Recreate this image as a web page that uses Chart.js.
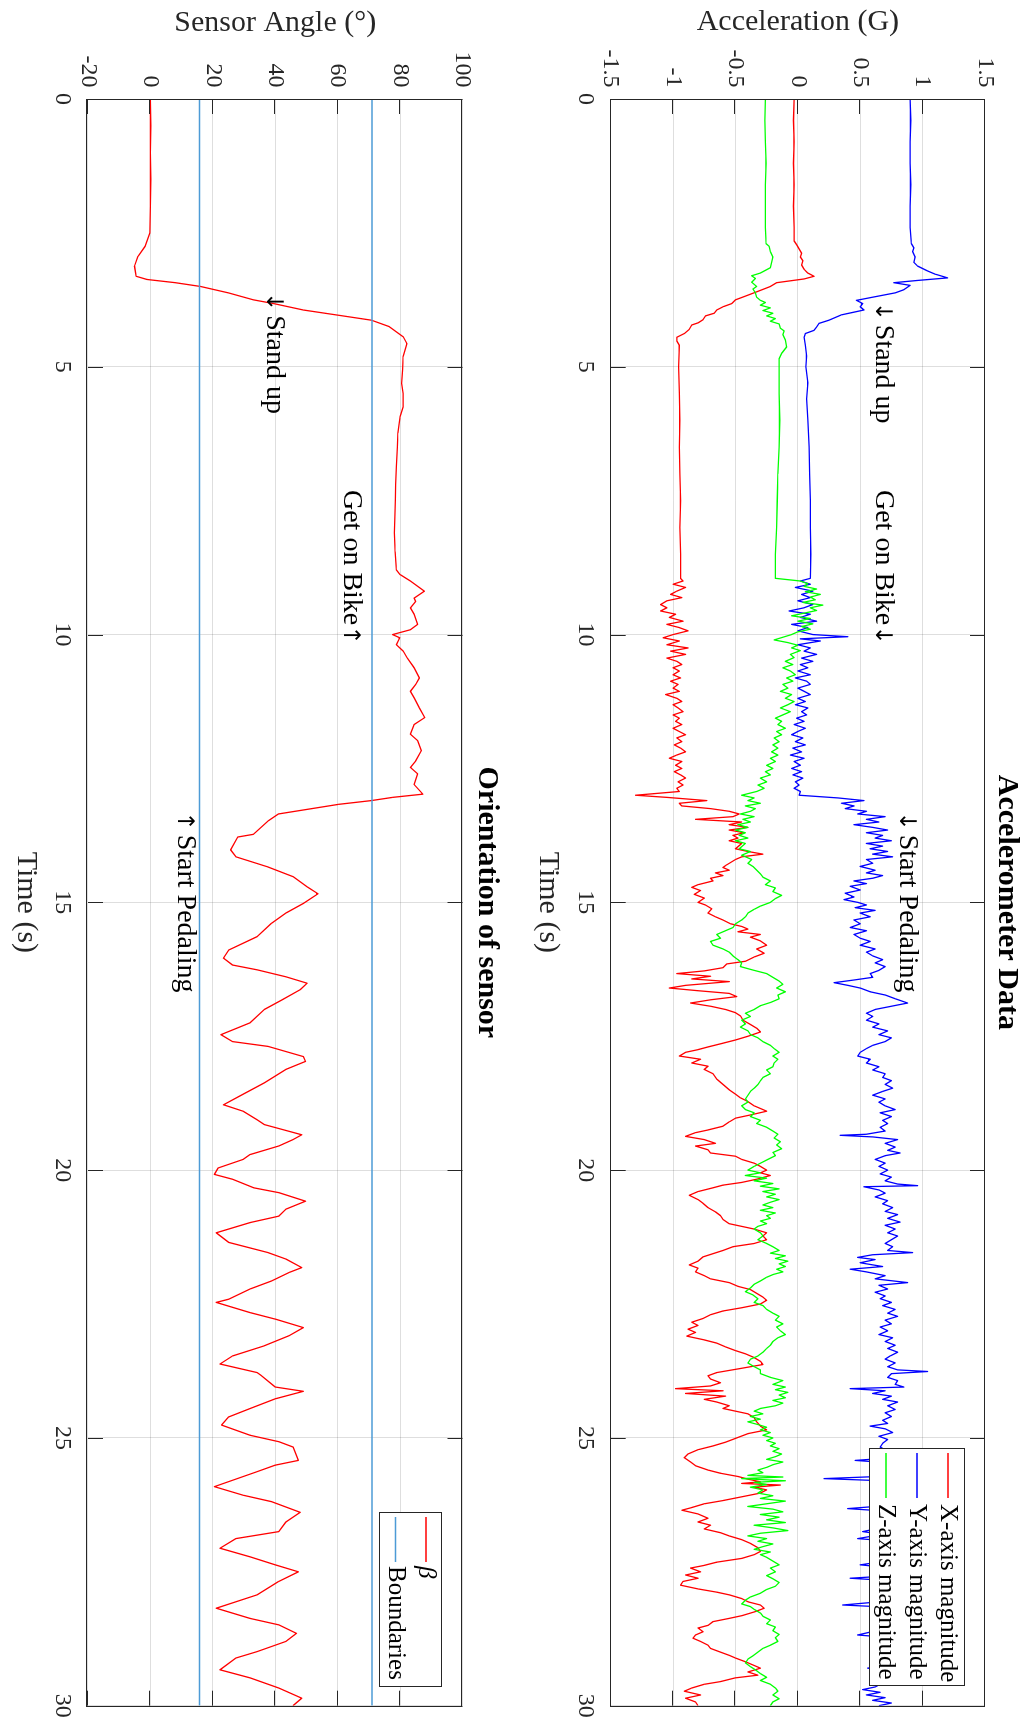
<!DOCTYPE html>
<html>
<head>
<meta charset="utf-8">
<script src="https://cdn.jsdelivr.net/npm/chart.js@4.4.1/dist/chart.umd.min.js"></script>
<style>
html,body{margin:0;padding:0;background:#fff;width:1028px;height:1729px;overflow:hidden;}
#fig{position:absolute;left:0;top:0;width:1729px;height:1028px;transform-origin:0 0;transform:translate(1028px,0) rotate(90deg);background:#fff;}
#topBox{position:absolute;left:0;top:0;width:1729px;height:500px;}
#botBox{position:absolute;left:0;top:500px;width:1729px;height:528px;}
canvas{display:block;}
</style>
</head>
<body>
<div id="fig">
  <div id="topBox"><canvas id="accelChart" width="1729" height="500"></canvas></div>
  <div id="botBox"><canvas id="angleChart" width="1729" height="528"></canvas></div>
</div>
<script>
// ---------------- DATA (time in s, value) ----------------
const timeRange = [0, 30];
const timeTicks = [0, 5, 10, 15, 20, 25, 30];
const timeTickLabels = ['0', '5', '10', '15', '20', '25', '30'];
const accelTicks = [-1.5, -1, -0.5, 0, 0.5, 1, 1.5];
const accelTickLabels = ['-1.5', '-1', '-0.5', '0', '0.5', '1', '1.5'];
const angleTicks = [-20, 0, 20, 40, 60, 80, 100];
const angleTickLabels = ['-20', '0', '20', '40', '60', '80', '100'];
const boundaryLevels = [15.7, 71];

const accelX = [
[0,-0.03],[0.4,-0.035],[0.8,-0.03],[1.2,-0.035],[1.6,-0.03],[2.0,-0.035],[2.4,-0.03],[2.65,-0.03],[2.72,-0.01],[2.8,0.01],[2.88,0.03],[2.95,0.02],[3.02,0.04],[3.1,0.03],[3.18,0.05],[3.25,0.08],[3.31,0.13],[3.36,0.05],[3.43,-0.17],[3.5,-0.22],[3.6,-0.33],[3.68,-0.42],[3.75,-0.5],[3.82,-0.53],[3.88,-0.6],[3.94,-0.65],[4.0,-0.67],[4.05,-0.74],[4.12,-0.76],[4.18,-0.8],[4.22,-0.85],[4.3,-0.87],[4.38,-0.91],[4.45,-0.97],[4.52,-0.97],[4.6,-0.95],[5.0,-0.955],[5.5,-0.95],[6.0,-0.945],[6.5,-0.95],[7.0,-0.945],[7.5,-0.94],[8.0,-0.945],[8.5,-0.94],[8.95,-0.94],
[9.0,-0.92],[9.06,-1.0],[9.12,-0.9],[9.19,-0.97],[9.25,-1.02],[9.31,-0.93],[9.37,-1.05],[9.44,-1.1],[9.5,-1.05],[9.56,-1.1],[9.62,-0.98],[9.68,-1.03],[9.75,-0.92],[9.81,-1.05],[9.87,-0.95],[9.93,-0.88],[10.0,-1.0],[10.06,-1.08],[10.12,-0.95],[10.19,-1.05],[10.25,-0.88],[10.31,-1.02],[10.37,-0.9],[10.44,-1.05],[10.5,-0.97],[10.56,-0.93],[10.62,-1.0],[10.68,-0.95],[10.75,-1.0],[10.81,-0.94],[10.87,-1.02],[10.93,-0.96],[11.0,-1.0],[11.06,-0.95],[11.12,-1.06],[11.19,-0.97],[11.25,-0.93],[11.31,-1.0],[11.37,-0.96],[11.44,-0.92],[11.5,-1.0],[11.56,-0.95],[11.62,-0.98],[11.68,-0.93],[11.75,-1.0],[11.81,-0.95],[11.87,-0.9],[11.93,-0.97],[12.0,-0.93],[12.06,-0.99],[12.12,-0.94],[12.19,-0.9],[12.25,-0.97],[12.31,-1.03],[12.37,-0.93],[12.44,-0.98],[12.5,-0.93],[12.56,-0.99],[12.62,-0.94],[12.68,-0.9],[12.75,-0.96],[12.81,-0.92],[12.87,-0.97],[12.93,-0.95],[13.0,-1.3],[13.04,-1.05],[13.1,-0.73],[13.15,-0.95],[13.2,-0.93],[13.25,-0.7],[13.3,-0.55],[13.35,-0.47],[13.4,-0.52],[13.45,-0.82],[13.5,-0.45],[13.55,-0.55],[13.6,-0.4],[13.65,-0.55],[13.7,-0.43],[13.75,-0.52],
[13.8,-0.48],[13.85,-0.55],[13.9,-0.45],[14.0,-0.5],[14.05,-0.4],[14.1,-0.28],[14.15,-0.45],[14.2,-0.5],[14.3,-0.57],[14.35,-0.6],[14.4,-0.55],[14.45,-0.66],[14.5,-0.6],[14.55,-0.7],[14.6,-0.68],[14.67,-0.8],[14.72,-0.85],[14.78,-0.78],[14.85,-0.83],[14.92,-0.75],[15.0,-0.8],[15.05,-0.74],[15.12,-0.69],[15.2,-0.72],[15.27,-0.66],[15.33,-0.6],[15.4,-0.54],[15.45,-0.45],[15.5,-0.4],[15.55,-0.48],[15.6,-0.3],[15.65,-0.38],[15.72,-0.3],[15.8,-0.25],[15.87,-0.33],[15.95,-0.27],[16.02,-0.35],[16.1,-0.42],[16.15,-0.57],[16.22,-0.6],[16.28,-0.75],[16.33,-0.97],[16.38,-0.7],[16.43,-0.85],[16.48,-0.55],[16.55,-0.9],[16.6,-1.03],[16.65,-0.8],[16.7,-0.55],[16.76,-0.49],[16.82,-0.7],[16.88,-0.86],[16.94,-0.7],[17.0,-0.58],[17.06,-0.5],[17.12,-0.46],[17.2,-0.44],[17.28,-0.38],[17.35,-0.33],[17.42,-0.3],[17.5,-0.4],[17.57,-0.5],[17.63,-0.6],[17.7,-0.72],[17.75,-0.8],[17.8,-0.9],[17.87,-0.95],[17.93,-0.78],[18.0,-0.85],[18.06,-0.72],[18.12,-0.75],[18.2,-0.68],[18.3,-0.65],[18.4,-0.6],[18.5,-0.55],[18.58,-0.5],[18.65,-0.46],[18.72,-0.4],[18.8,-0.35],
[18.85,-0.3],[18.9,-0.25],[18.97,-0.38],[19.03,-0.5],[19.1,-0.55],[19.18,-0.6],[19.25,-0.72],[19.3,-0.82],[19.37,-0.9],[19.43,-0.75],[19.5,-0.66],[19.55,-0.82],[19.62,-0.72],[19.68,-0.7],[19.74,-0.5],[19.8,-0.45],[19.87,-0.35],[19.93,-0.3],[20.0,-0.25],[20.05,-0.3],[20.1,-0.22],[20.17,-0.33],[20.23,-0.45],[20.28,-0.6],[20.33,-0.68],[20.4,-0.8],[20.47,-0.87],[20.55,-0.8],[20.62,-0.76],[20.7,-0.72],[20.78,-0.66],[20.85,-0.62],[20.92,-0.6],[21.0,-0.55],[21.05,-0.45],[21.1,-0.35],[21.17,-0.25],[21.23,-0.28],[21.3,-0.25],[21.37,-0.35],[21.43,-0.52],[21.5,-0.6],[21.56,-0.68],[21.62,-0.76],[21.7,-0.8],[21.77,-0.87],[21.83,-0.8],[21.9,-0.82],[21.97,-0.75],[22.03,-0.7],[22.1,-0.55],[22.17,-0.48],[22.23,-0.38],[22.3,-0.33],[22.37,-0.28],[22.43,-0.25],[22.5,-0.3],[22.57,-0.45],[22.63,-0.6],[22.7,-0.7],[22.77,-0.76],[22.84,-0.85],[22.9,-0.8],[22.97,-0.88],[23.03,-0.82],[23.1,-0.89],[23.17,-0.75],[23.23,-0.65],[23.3,-0.58],[23.37,-0.5],[23.43,-0.42],[23.5,-0.35],[23.57,-0.3],[23.63,-0.28],[23.7,-0.45],[23.78,-0.65],[23.84,-0.72],
[23.9,-0.7],[23.97,-0.62],[24.03,-0.7],[24.08,-0.98],[24.12,-0.6],[24.17,-0.9],[24.22,-0.58],[24.28,-0.75],[24.33,-0.65],[24.4,-0.55],[24.45,-0.6],[24.5,-0.5],[24.55,-0.4],[24.62,-0.35],[24.7,-0.33],[24.78,-0.3],[24.85,-0.25],[24.92,-0.4],[25.0,-0.49],[25.08,-0.58],[25.15,-0.68],[25.22,-0.8],[25.3,-0.88],[25.37,-0.91],[25.45,-0.86],[25.52,-0.82],[25.6,-0.72],[25.66,-0.62],[25.72,-0.48],[25.77,-0.4],[25.82,-0.3],[25.85,-0.45],[25.88,-0.14],[25.92,-0.35],[25.97,-0.25],[26.03,-0.3],[26.1,-0.45],[26.17,-0.6],[26.23,-0.75],[26.3,-0.85],[26.35,-0.93],[26.42,-0.8],[26.5,-0.72],[26.57,-0.8],[26.63,-0.7],[26.7,-0.75],[26.77,-0.62],[26.83,-0.55],[26.9,-0.45],[26.97,-0.38],[27.05,-0.32],[27.12,-0.3],[27.18,-0.35],[27.25,-0.45],[27.32,-0.65],[27.38,-0.75],[27.43,-0.86],[27.5,-0.78],[27.56,-0.9],[27.62,-0.8],[27.68,-0.92],[27.75,-0.94],[27.82,-0.8],[27.88,-0.65],[27.93,-0.55],[28.0,-0.45],[28.06,-0.4],[28.12,-0.3],[28.18,-0.27],[28.25,-0.35],[28.32,-0.45],[28.37,-0.55],[28.43,-0.68],[28.5,-0.72],[28.55,-0.8],[28.62,-0.76],[28.68,-0.82],[28.74,-0.84],[28.8,-0.78],[28.87,-0.72],[28.93,-0.7],[29.0,-0.62],[29.06,-0.55],[29.11,-0.5],[29.18,-0.42],[29.25,-0.35],[29.3,-0.3],[29.37,-0.4],[29.43,-0.32],[29.48,-0.5],[29.55,-0.62],[29.6,-0.75],[29.67,-0.85],[29.73,-0.91],[29.8,-0.78],[29.86,-0.9],[29.93,-0.82],[30.0,-0.8]
];

const accelY = [
[0,0.9],[0.4,0.905],[0.8,0.9],[1.2,0.9],[1.6,0.905],[2.0,0.9],[2.4,0.9],[2.7,0.91],[2.78,0.93],[2.85,0.92],[2.95,0.94],[3.05,0.93],[3.12,0.96],[3.2,1.03],[3.27,1.1],[3.34,1.2],[3.39,0.95],[3.43,0.77],[3.48,0.9],[3.56,0.85],[3.62,0.78],[3.71,0.58],[3.76,0.47],[3.82,0.52],[3.88,0.5],[3.94,0.53],[3.98,0.45],[4.03,0.35],[4.08,0.3],[4.13,0.25],[4.19,0.17],[4.26,0.15],[4.32,0.13],[4.38,0.06],[4.45,0.05],[4.6,0.06],[4.8,0.07],[5.0,0.065],[5.3,0.08],[5.6,0.07],[6.0,0.08],[6.5,0.09],[7.0,0.095],[7.5,0.1],[8.0,0.1],[8.5,0.105],[8.95,0.1],
[9.0,0.02],[9.06,0.1],[9.12,-0.02],[9.19,0.12],[9.25,0.03],[9.31,0.1],[9.37,0.0],[9.44,0.12],[9.5,0.05],[9.56,-0.07],[9.62,0.1],[9.68,0.02],[9.75,0.15],[9.81,-0.05],[9.87,0.08],[9.93,0.0],[10.0,0.12],[10.04,0.4],[10.08,0.02],[10.12,0.18],[10.19,0.0],[10.25,0.1],[10.31,0.05],[10.37,0.15],[10.44,0.03],[10.5,0.12],[10.56,0.02],[10.62,0.08],[10.68,0.0],[10.75,0.1],[10.81,-0.02],[10.87,0.07],[10.93,0.1],[11.0,0.0],[11.06,0.05],[11.12,0.1],[11.19,0.0],[11.25,0.06],[11.31,-0.02],[11.37,0.08],[11.44,0.03],[11.5,0.07],[11.56,-0.01],[11.62,0.05],[11.68,-0.03],[11.75,0.06],[11.81,0.0],[11.87,-0.05],[11.93,0.04],[12.0,-0.02],[12.06,0.06],[12.12,-0.04],[12.19,0.03],[12.25,-0.06],[12.31,0.05],[12.37,-0.03],[12.44,0.02],[12.5,-0.05],[12.56,0.03],[12.62,-0.04],[12.68,0.04],[12.75,-0.02],[12.81,0.01],[12.87,-0.03],[12.93,0.02],[13.0,0.01],[13.05,0.32],[13.1,0.53],[13.15,0.35],[13.2,0.45],[13.25,0.38],[13.3,0.55],[13.35,0.48],[13.4,0.7],[13.45,0.55],[13.5,0.65],[13.55,0.45],[13.6,0.6],[13.65,0.72],[13.7,0.55],[13.75,0.68],
[13.8,0.62],[13.85,0.75],[13.9,0.55],[13.95,0.68],[14.0,0.58],[14.05,0.72],[14.1,0.6],[14.15,0.76],[14.2,0.55],[14.27,0.6],[14.33,0.5],[14.4,0.62],[14.45,0.55],[14.5,0.68],[14.55,0.6],[14.6,0.45],[14.65,0.55],[14.7,0.42],[14.77,0.5],[14.83,0.38],[14.9,0.45],[14.95,0.37],[15.0,0.48],[15.05,0.55],[15.1,0.46],[15.15,0.62],[15.2,0.5],[15.27,0.58],[15.33,0.45],[15.4,0.5],[15.47,0.42],[15.53,0.55],[15.6,0.45],[15.67,0.5],[15.73,0.58],[15.8,0.5],[15.87,0.62],[15.93,0.55],[16.0,0.6],[16.07,0.68],[16.13,0.62],[16.2,0.7],[16.27,0.65],[16.33,0.58],[16.4,0.6],[16.45,0.45],[16.5,0.29],[16.55,0.4],[16.6,0.5],[16.67,0.58],[16.73,0.7],[16.8,0.78],[16.88,0.88],[16.94,0.75],[17.0,0.62],[17.07,0.55],[17.13,0.6],[17.2,0.55],[17.27,0.65],[17.33,0.6],[17.4,0.72],[17.47,0.65],[17.53,0.75],[17.6,0.7],[17.67,0.6],[17.73,0.55],[17.8,0.5],[17.87,0.48],[17.93,0.58],[18.0,0.55],[18.07,0.65],[18.13,0.6],[18.2,0.7],[18.27,0.68],[18.33,0.75],[18.4,0.7],[18.47,0.76],[18.53,0.68],[18.6,0.6],[18.67,0.7],[18.73,0.65],[18.8,0.7],
[18.87,0.78],[18.93,0.66],[19.0,0.75],[19.07,0.68],[19.13,0.72],[19.2,0.66],[19.27,0.7],[19.33,0.55],[19.35,0.34],[19.38,0.6],[19.43,0.8],[19.5,0.7],[19.57,0.78],[19.63,0.72],[19.68,0.82],[19.73,0.7],[19.8,0.62],[19.87,0.7],[19.93,0.65],[20.0,0.72],[20.07,0.66],[20.13,0.75],[20.2,0.7],[20.26,0.8],[20.29,0.96],[20.31,0.53],[20.37,0.65],[20.43,0.7],[20.5,0.62],[20.57,0.72],[20.63,0.68],[20.7,0.76],[20.77,0.7],[20.83,0.8],[20.9,0.72],[20.97,0.82],[21.03,0.7],[21.1,0.78],[21.17,0.72],[21.23,0.8],[21.3,0.75],[21.37,0.7],[21.43,0.76],[21.5,0.72],[21.54,0.92],[21.58,0.6],[21.63,0.48],[21.67,0.62],[21.73,0.5],[21.8,0.68],[21.85,0.42],[21.9,0.55],[21.97,0.7],[22.03,0.62],[22.1,0.88],[22.15,0.65],[22.22,0.72],[22.28,0.62],[22.35,0.7],[22.4,0.66],[22.47,0.75],[22.53,0.68],[22.6,0.78],[22.67,0.72],[22.73,0.8],[22.8,0.7],[22.87,0.75],[22.93,0.66],[23.0,0.72],[23.07,0.65],[23.13,0.76],[23.2,0.7],[23.27,0.78],[23.33,0.72],[23.4,0.8],[23.47,0.74],[23.53,0.7],[23.6,0.78],[23.67,0.72],[23.73,0.8],[23.76,1.04],[23.8,0.75],
[23.87,0.72],[23.93,0.8],[24.0,0.78],[24.05,0.85],[24.08,0.42],[24.12,0.7],[24.17,0.6],[24.22,0.75],[24.28,0.68],[24.33,0.8],[24.4,0.72],[24.47,0.78],[24.53,0.7],[24.6,0.75],[24.67,0.68],[24.73,0.72],[24.78,0.58],[24.83,0.7],[24.9,0.76],[24.97,0.65],[25.03,0.72],[25.1,0.68],[25.17,0.66],[25.25,0.72],[25.3,0.75],[25.38,0.7],[25.42,0.46],[25.46,0.7],[25.55,0.78],[25.65,0.72],[25.72,0.65],[25.76,0.21],[25.8,0.68],[25.9,0.75],[26.0,0.72],[26.1,0.78],[26.2,0.7],[26.28,0.62],[26.32,0.4],[26.36,0.66],[26.45,0.74],[26.55,0.7],[26.65,0.72],[26.75,0.52],[26.8,0.68],[26.88,0.48],[26.92,0.7],[27.0,0.75],[27.1,0.72],[27.2,0.78],[27.3,0.7],[27.37,0.5],[27.42,0.72],[27.5,0.76],[27.58,0.7],[27.62,0.42],[27.66,0.7],[27.75,0.76],[27.85,0.72],[27.95,0.78],[28.05,0.7],[28.12,0.36],[28.16,0.72],[28.25,0.76],[28.35,0.7],[28.45,0.78],[28.55,0.72],[28.68,0.48],[28.72,0.7],[28.8,0.76],[28.9,0.72],[29.0,0.78],[29.1,0.7],[29.2,0.75],[29.3,0.56],[29.34,0.72],[29.45,0.76],[29.55,0.7],[29.65,0.62],[29.7,0.52],[29.75,0.66],[29.8,0.55],[29.85,0.7],[29.9,0.6],[29.95,0.75],[30.0,0.65]
];

const accelZ = [
[0,-0.26],[0.4,-0.265],[0.8,-0.26],[1.2,-0.255],[1.6,-0.26],[2.0,-0.26],[2.4,-0.26],[2.7,-0.255],[2.75,-0.23],[2.85,-0.22],[2.95,-0.2],[3.05,-0.21],[3.15,-0.22],[3.25,-0.3],[3.3,-0.37],[3.35,-0.34],[3.42,-0.37],[3.5,-0.33],[3.55,-0.36],[3.62,-0.34],[3.7,-0.33],[3.76,-0.3],[3.8,-0.26],[3.85,-0.3],[3.9,-0.22],[3.95,-0.28],[4.0,-0.2],[4.05,-0.25],[4.1,-0.18],[4.15,-0.22],[4.2,-0.15],[4.28,-0.14],[4.33,-0.11],[4.4,-0.12],[4.5,-0.1],[4.63,-0.09],[4.75,-0.13],[4.85,-0.15],[5.0,-0.15],[5.5,-0.15],[6.0,-0.145],[6.5,-0.15],[7.0,-0.16],[7.5,-0.165],[8.0,-0.17],[8.5,-0.18],[8.95,-0.18],
[9.0,0.02],[9.05,0.08],[9.1,0.05],[9.15,0.15],[9.2,0.06],[9.25,0.18],[9.3,0.1],[9.35,0.14],[9.4,0.04],[9.45,0.2],[9.5,0.1],[9.55,0.15],[9.6,0.05],[9.65,-0.05],[9.7,0.1],[9.75,0.0],[9.8,0.12],[9.85,0.03],[9.9,0.1],[9.95,0.0],[10.0,-0.05],[10.05,-0.12],[10.1,-0.19],[10.15,-0.08],[10.2,0.0],[10.25,-0.05],[10.3,0.02],[10.37,-0.06],[10.43,-0.03],[10.5,-0.1],[10.56,-0.04],[10.62,-0.12],[10.68,-0.06],[10.75,-0.02],[10.81,-0.09],[10.87,-0.04],[10.93,-0.12],[11.0,-0.08],[11.06,-0.14],[11.12,-0.05],[11.19,-0.1],[11.25,-0.03],[11.31,-0.08],[11.37,-0.14],[11.44,-0.06],[11.5,-0.12],[11.56,-0.18],[11.62,-0.13],[11.68,-0.16],[11.75,-0.1],[11.81,-0.17],[11.87,-0.13],[11.93,-0.19],[12.0,-0.15],[12.06,-0.2],[12.12,-0.16],[12.19,-0.21],[12.25,-0.16],[12.31,-0.22],[12.37,-0.18],[12.44,-0.25],[12.5,-0.2],[12.56,-0.26],[12.62,-0.22],[12.68,-0.3],[12.75,-0.25],[12.81,-0.32],[12.87,-0.27],[12.93,-0.33],[13.0,-0.45],[13.05,-0.35],[13.1,-0.4],[13.15,-0.3],[13.2,-0.42],[13.25,-0.34],[13.3,-0.38],[13.35,-0.46],[13.4,-0.35],[13.45,-0.44],[13.5,-0.38],[13.55,-0.48],[13.6,-0.4],[13.65,-0.5],[13.7,-0.42],[13.75,-0.47],
[13.8,-0.4],[13.85,-0.5],[13.9,-0.42],[14.0,-0.47],[14.05,-0.38],[14.12,-0.45],[14.2,-0.37],[14.27,-0.4],[14.33,-0.36],[14.4,-0.33],[14.47,-0.3],[14.53,-0.28],[14.6,-0.22],[14.67,-0.26],[14.73,-0.18],[14.8,-0.2],[14.87,-0.13],[14.93,-0.18],[15.0,-0.22],[15.07,-0.3],[15.13,-0.35],[15.2,-0.4],[15.27,-0.42],[15.33,-0.45],[15.4,-0.5],[15.47,-0.52],[15.53,-0.58],[15.6,-0.65],[15.67,-0.62],[15.73,-0.7],[15.8,-0.68],[15.87,-0.6],[15.93,-0.55],[16.0,-0.52],[16.07,-0.48],[16.13,-0.45],[16.2,-0.46],[16.27,-0.35],[16.33,-0.25],[16.4,-0.2],[16.47,-0.15],[16.53,-0.12],[16.6,-0.17],[16.67,-0.1],[16.73,-0.16],[16.8,-0.15],[16.87,-0.22],[16.93,-0.3],[17.0,-0.35],[17.07,-0.42],[17.13,-0.38],[17.2,-0.45],[17.27,-0.42],[17.33,-0.46],[17.4,-0.4],[17.47,-0.38],[17.53,-0.32],[17.6,-0.28],[17.67,-0.22],[17.73,-0.19],[17.8,-0.15],[17.87,-0.2],[17.93,-0.16],[18.0,-0.19],[18.07,-0.2],[18.13,-0.25],[18.2,-0.22],[18.27,-0.28],[18.33,-0.3],[18.4,-0.32],[18.47,-0.35],[18.53,-0.38],[18.6,-0.4],[18.67,-0.42],[18.73,-0.4],[18.8,-0.45],
[18.87,-0.42],[18.93,-0.35],[19.0,-0.38],[19.07,-0.3],[19.13,-0.33],[19.2,-0.25],[19.27,-0.2],[19.33,-0.16],[19.4,-0.19],[19.47,-0.14],[19.53,-0.17],[19.6,-0.13],[19.67,-0.2],[19.73,-0.18],[19.8,-0.24],[19.87,-0.3],[19.93,-0.35],[20.0,-0.4],[20.05,-0.3],[20.1,-0.42],[20.15,-0.25],[20.2,-0.35],[20.25,-0.2],[20.3,-0.3],[20.35,-0.15],[20.4,-0.28],[20.45,-0.18],[20.5,-0.25],[20.55,-0.15],[20.6,-0.22],[20.65,-0.28],[20.7,-0.2],[20.75,-0.3],[20.8,-0.18],[20.85,-0.25],[20.9,-0.22],[20.95,-0.3],[21.0,-0.25],[21.05,-0.32],[21.1,-0.35],[21.17,-0.3],[21.23,-0.28],[21.3,-0.32],[21.37,-0.25],[21.43,-0.2],[21.5,-0.15],[21.55,-0.22],[21.6,-0.1],[21.65,-0.18],[21.7,-0.08],[21.75,-0.15],[21.8,-0.1],[21.85,-0.17],[21.9,-0.12],[21.95,-0.2],[22.0,-0.25],[22.07,-0.3],[22.13,-0.35],[22.2,-0.38],[22.27,-0.42],[22.33,-0.36],[22.4,-0.32],[22.47,-0.35],[22.53,-0.28],[22.6,-0.25],[22.67,-0.2],[22.73,-0.15],[22.8,-0.18],[22.87,-0.12],[22.93,-0.17],[23.0,-0.14],[23.07,-0.1],[23.13,-0.16],[23.2,-0.2],[23.27,-0.22],[23.33,-0.25],[23.4,-0.28],[23.47,-0.32],[23.53,-0.38],[23.6,-0.4],[23.67,-0.35],[23.73,-0.3],[23.8,-0.3],
[23.87,-0.22],[23.93,-0.12],[24.0,-0.2],[24.05,-0.1],[24.1,-0.18],[24.15,-0.08],[24.2,-0.15],[24.25,-0.1],[24.3,-0.2],[24.35,-0.12],[24.4,-0.18],[24.45,-0.3],[24.5,-0.35],[24.55,-0.28],[24.6,-0.38],[24.65,-0.3],[24.7,-0.4],[24.75,-0.32],[24.8,-0.25],[24.85,-0.3],[24.9,-0.22],[24.95,-0.28],[25.0,-0.2],[25.05,-0.25],[25.1,-0.18],[25.15,-0.22],[25.2,-0.15],[25.25,-0.2],[25.3,-0.13],[25.35,-0.18],[25.4,-0.25],[25.45,-0.12],[25.5,-0.2],[25.55,-0.25],[25.6,-0.32],[25.65,-0.28],[25.7,-0.4],[25.73,-0.12],[25.76,-0.45],[25.8,-0.1],[25.83,-0.35],[25.87,-0.25],[25.92,-0.38],[25.97,-0.28],[26.03,-0.32],[26.08,-0.2],[26.13,-0.3],[26.18,-0.1],[26.23,-0.25],[26.28,-0.4],[26.33,-0.2],[26.38,-0.12],[26.43,-0.3],[26.48,-0.15],[26.53,-0.25],[26.58,-0.1],[26.63,-0.35],[26.68,-0.2],[26.73,-0.08],[26.78,-0.3],[26.83,-0.4],[26.88,-0.25],[26.93,-0.32],[26.98,-0.2],[27.03,-0.28],[27.08,-0.35],[27.13,-0.22],[27.18,-0.3],[27.23,-0.25],[27.3,-0.2],[27.37,-0.15],[27.43,-0.22],[27.5,-0.18],[27.57,-0.25],[27.63,-0.2],[27.7,-0.15],[27.77,-0.18],[27.83,-0.25],[27.9,-0.3],[27.97,-0.38],[28.03,-0.42],[28.1,-0.45],[28.15,-0.38],[28.2,-0.35],[28.27,-0.3],[28.33,-0.28],[28.4,-0.22],[28.47,-0.25],[28.53,-0.18],[28.6,-0.2],[28.67,-0.15],[28.73,-0.18],[28.8,-0.16],[28.87,-0.22],[28.93,-0.28],[29.0,-0.32],[29.07,-0.36],[29.13,-0.4],[29.2,-0.42],[29.27,-0.38],[29.33,-0.34],[29.4,-0.3],[29.47,-0.25],[29.53,-0.3],[29.6,-0.22],[29.67,-0.18],[29.73,-0.16],[29.8,-0.2],[29.87,-0.15],[29.93,-0.2],[30.0,-0.22]
];

const betaAngle = [
[0,0],[0.5,0.1],[1,0],[1.5,0.1],[2,0],[2.5,-0.2],[2.75,-1.7],[2.94,-4],[3.12,-5.1],[3.31,-4.6],[3.37,-1.1],[3.43,8],[3.5,16],[3.62,25],[3.75,33],[3.82,39.5],[3.94,49],[4.04,60.5],[4.13,70.8],[4.25,76.5],[4.44,81],[4.57,82.2],[4.81,81],[5.05,80.8],[5.31,80.5],[5.5,81],[5.75,81],[5.93,80],[6.1,79.6],[6.24,79.3],[6.5,79.1],[6.86,78.8],[7.2,78.6],[7.48,78.5],[7.8,78.3],[8.1,78.2],[8.45,78.4],[8.79,78.8],[8.88,80],[9.0,83.3],[9.19,87.8],[9.32,84.5],[9.38,85],[9.5,83.3],[9.62,84.5],[9.81,85.6],[9.91,83.3],[10.0,77.6],[10.06,79.9],[10.19,78.8],[10.31,81],[10.43,82.2],[10.62,84.5],[10.81,86.2],[10.93,85],[11.06,83.3],[11.18,84.5],[11.37,86.2],[11.55,87.9],[11.68,84.5],[11.86,83.3],[11.98,85.6],[12.17,86.8],[12.36,85],[12.48,83.3],[12.6,85.6],[12.8,84.5],[12.98,87.3],[13.04,77.6],[13.1,70.8],[13.17,60.3],[13.35,41],[13.48,37.7],[13.73,33],[13.78,28],[14.02,25.7],[14.15,27.4],[14.34,37.7],[14.52,45.7],[14.71,50.2],[14.84,53.7],[15.02,49],[15.2,43.4],[15.39,38.8],[15.64,34.2],[15.89,25.1],[16.04,23.4],[16.17,26.3],[16.26,34.2],[16.39,43.4],[16.51,50.2],[16.63,48],[16.82,42.2],[17.0,36.5],[17.25,31.9],[17.47,22.6],[17.6,26.3],[17.69,37.7],[17.88,49],[17.97,49.7],[18.12,43.4],[18.37,36.5],[18.62,28.5],[18.78,23.4],[18.9,29.7],[19.06,34.2],[19.15,36.5],[19.24,42.2],[19.34,48.5],[19.43,45.7],[19.55,41.1],[19.71,31.9],[19.8,29.7],[19.96,21.7],[20.08,20.5],[20.17,26.3],[20.33,33.1],[20.42,41.1],[20.58,49.7],[20.73,43.4],[20.86,41.1],[20.98,31.9],[21.17,21.1],[21.35,25.1],[21.54,37.7],[21.66,43.4],[21.82,48.5],[21.91,44.5],[22.07,38.8],[22.22,31.9],[22.41,25.1],[22.47,21.1],[22.66,31.9],[22.78,39.9],[22.94,49],[23.09,44.5],[23.28,36.5],[23.47,26.3],[23.62,22.3],[23.78,34.2],[23.83,35.4],[24.05,40],[24.13,49],[24.27,40],[24.45,32],[24.61,25],[24.76,22.8],[24.95,31.9],[25.07,41.1],[25.17,45.7],[25.42,47.4],[25.51,39.9],[25.63,34.2],[25.91,20.5],[26.07,29.7],[26.19,38.8],[26.39,48],[26.57,43.4],[26.75,41.1],[26.88,27.4],[27.06,22.3],[27.22,31.9],[27.37,40],[27.5,47.4],[27.68,41.1],[27.93,34.2],[28.18,21.1],[28.37,31.9],[28.49,41.1],[28.65,46.8],[28.8,43.4],[28.99,34.2],[29.11,27.4],[29.33,22.3],[29.48,31.9],[29.67,41.1],[29.86,48.5],[30.0,45.7]
];

// ---------------- STYLE / LAYOUT ----------------
const FONT = "'Liberation Serif', 'Times New Roman', serif";
const ARROW_FONT = "'DejaVu Sans', sans-serif";
const AXIS = '#262626';
Chart.defaults.font.family = FONT;
Chart.defaults.color = AXIS;

const toXY = pts => pts.map(p => ({ x: p[0], y: p[1] }));

function drawNote(ctx, text, x, y) {
  // arrows drawn with a font whose arrow glyphs are full height, like the TeX arrows
  const runs = text.split(/([\u2190-\u2193])/).filter(s => s.length);
  let cx = x;
  runs.forEach(r => {
    const isArrow = /^[\u2190-\u2193]$/.test(r);
    ctx.font = isArrow ? '23px ' + ARROW_FONT : '28px ' + FONT;
    ctx.fillText(r, cx, y);
    cx += ctx.measureText(r).width * (isArrow ? 0.85 : 1);
  });
}

const matlabFrame = {
  id: 'matlabFrame',
  afterDatasetsDraw(chart, args, opts) {
    const { ctx, chartArea: a, scales: { x, y } } = chart;
    ctx.save();
    ctx.strokeStyle = AXIS;
    ctx.lineWidth = 1;
    const L = 15;
    ctx.beginPath();
    x.ticks.forEach(t => {
      const p = Math.round(x.getPixelForValue(t.value)) + 0.5;
      ctx.moveTo(p, a.bottom); ctx.lineTo(p, a.bottom - L);
      ctx.moveTo(p, a.top); ctx.lineTo(p, a.top + L);
    });
    y.ticks.forEach(t => {
      const p = Math.round(y.getPixelForValue(t.value)) + 0.5;
      ctx.moveTo(a.left, p); ctx.lineTo(a.left + L, p);
      ctx.moveTo(a.right, p); ctx.lineTo(a.right - L, p);
    });
    ctx.stroke();
    ctx.strokeRect(Math.round(a.left) + 0.5, Math.round(a.top) + 0.5, Math.round(a.width), Math.round(a.height));

    // annotations
    ctx.fillStyle = '#000';
    ctx.textAlign = 'left';
    ctx.textBaseline = 'alphabetic';
    (opts.notes || []).forEach(n => {
      drawNote(ctx, n.text, x.getPixelForValue(n.t), y.getPixelForValue(n.v));
    });

    // legend
    const lg = opts.legend;
    if (lg) {
      const bx = Math.round(a.right - lg.right - lg.w);
      const by = Math.round(a.top + lg.top);
      ctx.fillStyle = '#fff';
      ctx.fillRect(bx, by, lg.w, lg.h);
      ctx.strokeStyle = AXIS;
      ctx.lineWidth = 1;
      ctx.strokeRect(bx + 0.5, by + 0.5, lg.w, lg.h);
      lg.items.forEach((it, i) => {
        const yy = by + lg.first + i * lg.step;
        ctx.strokeStyle = it.color;
        ctx.lineWidth = 1.4;
        ctx.beginPath();
        ctx.moveTo(bx + lg.line0, yy); ctx.lineTo(bx + lg.line1, yy);
        ctx.stroke();
        ctx.fillStyle = '#000';
        ctx.font = (it.italic ? 'italic ' : '') + '25px ' + FONT;
        ctx.textBaseline = 'middle';
        ctx.textAlign = 'left';
        ctx.fillText(it.label, bx + lg.textX, yy);
      });
    }
    ctx.restore();
  }
};

function timeScale(height, tickPad, titlePadBottom) {
  return {
    type: 'linear', position: 'bottom', min: timeRange[0], max: timeRange[1],
    afterBuildTicks: s => { s.ticks = timeTicks.map(v => ({ value: v })); },
    afterFit: s => { s.height = height; },
    grid: { color: 'rgba(0,0,0,0.13)', lineWidth: 1, drawTicks: false },
    border: { display: false },
    ticks: { padding: tickPad, maxRotation: 0, autoSkip: false, color: AXIS,
             font: { size: 24, family: FONT }, callback: (v, i) => timeTickLabels[i] },
    title: { display: true, text: 'Time (s)', color: AXIS,
             font: { size: 30, family: FONT, lineHeight: 1 }, padding: { top: 0, bottom: titlePadBottom } }
  };
}

function valueScale(min, max, tickVals, tickLabels, title, titlePadTop) {
  return {
    type: 'linear', position: 'left', min: min, max: max,
    afterBuildTicks: s => { s.ticks = tickVals.map(v => ({ value: v })); },
    afterFit: s => { s.width = 99; },
    grid: { color: 'rgba(0,0,0,0.13)', lineWidth: 1, drawTicks: false },
    border: { display: false },
    ticks: { padding: 11.5, autoSkip: false, color: AXIS,
             font: { size: 24, family: FONT }, callback: (v, i) => tickLabels[i] },
    title: { display: true, text: title, color: AXIS,
             font: { size: 30, family: FONT, lineHeight: 1 }, padding: { top: titlePadTop, bottom: 0 } }
  };
}

const lineStyle = { pointRadius: 0, borderWidth: 1.3, tension: 0, fill: false, borderJoinStyle: 'round' };

new Chart(document.getElementById('accelChart'), {
  type: 'line',
  data: {
    datasets: [
      Object.assign({ label: 'Z-axis magnitude', data: toXY(accelZ), borderColor: '#00ff00' }, lineStyle),
      Object.assign({ label: 'Y-axis magnitude', data: toXY(accelY), borderColor: '#0000ff' }, lineStyle),
      Object.assign({ label: 'X-axis magnitude', data: toXY(accelX), borderColor: '#ff0000' }, lineStyle)
    ]
  },
  options: {
    responsive: false, animation: false, devicePixelRatio: 1,
    layout: { padding: { left: 0, right: 18, top: 0, bottom: 0 } },
    scales: {
      x: timeScale(82.7, 11.3, 5),
      y: valueScale(-1.5, 1.5, accelTicks, accelTickLabels, 'Acceleration (G)', 7)
    },
    plugins: {
      legend: { display: false },
      tooltip: { enabled: false },
      title: { display: true, text: 'Accelerometer Data', fullSize: false, color: '#000',
               font: { size: 30, weight: 'bold', family: FONT, lineHeight: 1 },
               padding: { top: 6, bottom: 7 } },
      matlabFrame: {
        notes: [
          { text: '\u2193 Stand up', t: 3.78, v: 0.63 },
          { text: 'Get on Bike\u2193', t: 7.3, v: 0.63 },
          { text: '\u2193 Start Pedaling', t: 13.3, v: 0.82 }
        ],
        legend: { w: 237, h: 95, right: 21, top: 20, first: 17, step: 31, line0: 5, line1: 50, textX: 56,
          items: [
            { label: 'X-axis magnitude', color: '#ff0000' },
            { label: 'Y-axis magnitude', color: '#0000ff' },
            { label: 'Z-axis magnitude', color: '#00ff00' }
          ] }
      }
    }
  },
  plugins: [matlabFrame]
});

new Chart(document.getElementById('angleChart'), {
  type: 'line',
  data: {
    datasets: [
      Object.assign({ label: 'Boundaries', data: toXY([[timeRange[0], boundaryLevels[0]], [timeRange[1], boundaryLevels[0]]]), borderColor: '#4d9bd6' }, lineStyle, { borderWidth: 1.5 }),
      Object.assign({ label: 'Boundaries', data: toXY([[timeRange[0], boundaryLevels[1]], [timeRange[1], boundaryLevels[1]]]), borderColor: '#4d9bd6' }, lineStyle, { borderWidth: 1.5 }),
      Object.assign({ label: '\u03B2', data: toXY(betaAngle), borderColor: '#ff0000' }, lineStyle)
    ]
  },
  options: {
    responsive: false, animation: false, devicePixelRatio: 1,
    layout: { padding: { left: 0, right: 18, top: 0, bottom: 0 } },
    scales: {
      x: timeScale(88, 11.3, 10.5),
      y: valueScale(-20, 100, angleTicks, angleTickLabels, 'Sensor Angle (\u00B0)', 8)
    },
    plugins: {
      legend: { display: false },
      tooltip: { enabled: false },
      title: { display: true, text: 'Orientation of sensor', fullSize: false, color: '#000',
               font: { size: 30, weight: 'bold', family: FONT, lineHeight: 1 },
               padding: { top: 26.5, bottom: 9 } },
      matlabFrame: {
        notes: [
          { text: '\u2193 Stand up', t: 3.6, v: 37.4 },
          { text: 'Get on Bike\u2191', t: 7.3, v: 62 },
          { text: '\u2191 Start Pedaling', t: 13.3, v: 8.8 }
        ],
        legend: { w: 174, h: 62, right: 20, top: 20, first: 16, step: 30.5, line0: 5, line1: 50, textX: 54,
          items: [
            { label: '\u03B2', color: '#ff0000', italic: true },
            { label: 'Boundaries', color: '#4d9bd6' }
          ] }
      }
    }
  },
  plugins: [matlabFrame]
});
</script>
</body>
</html>
